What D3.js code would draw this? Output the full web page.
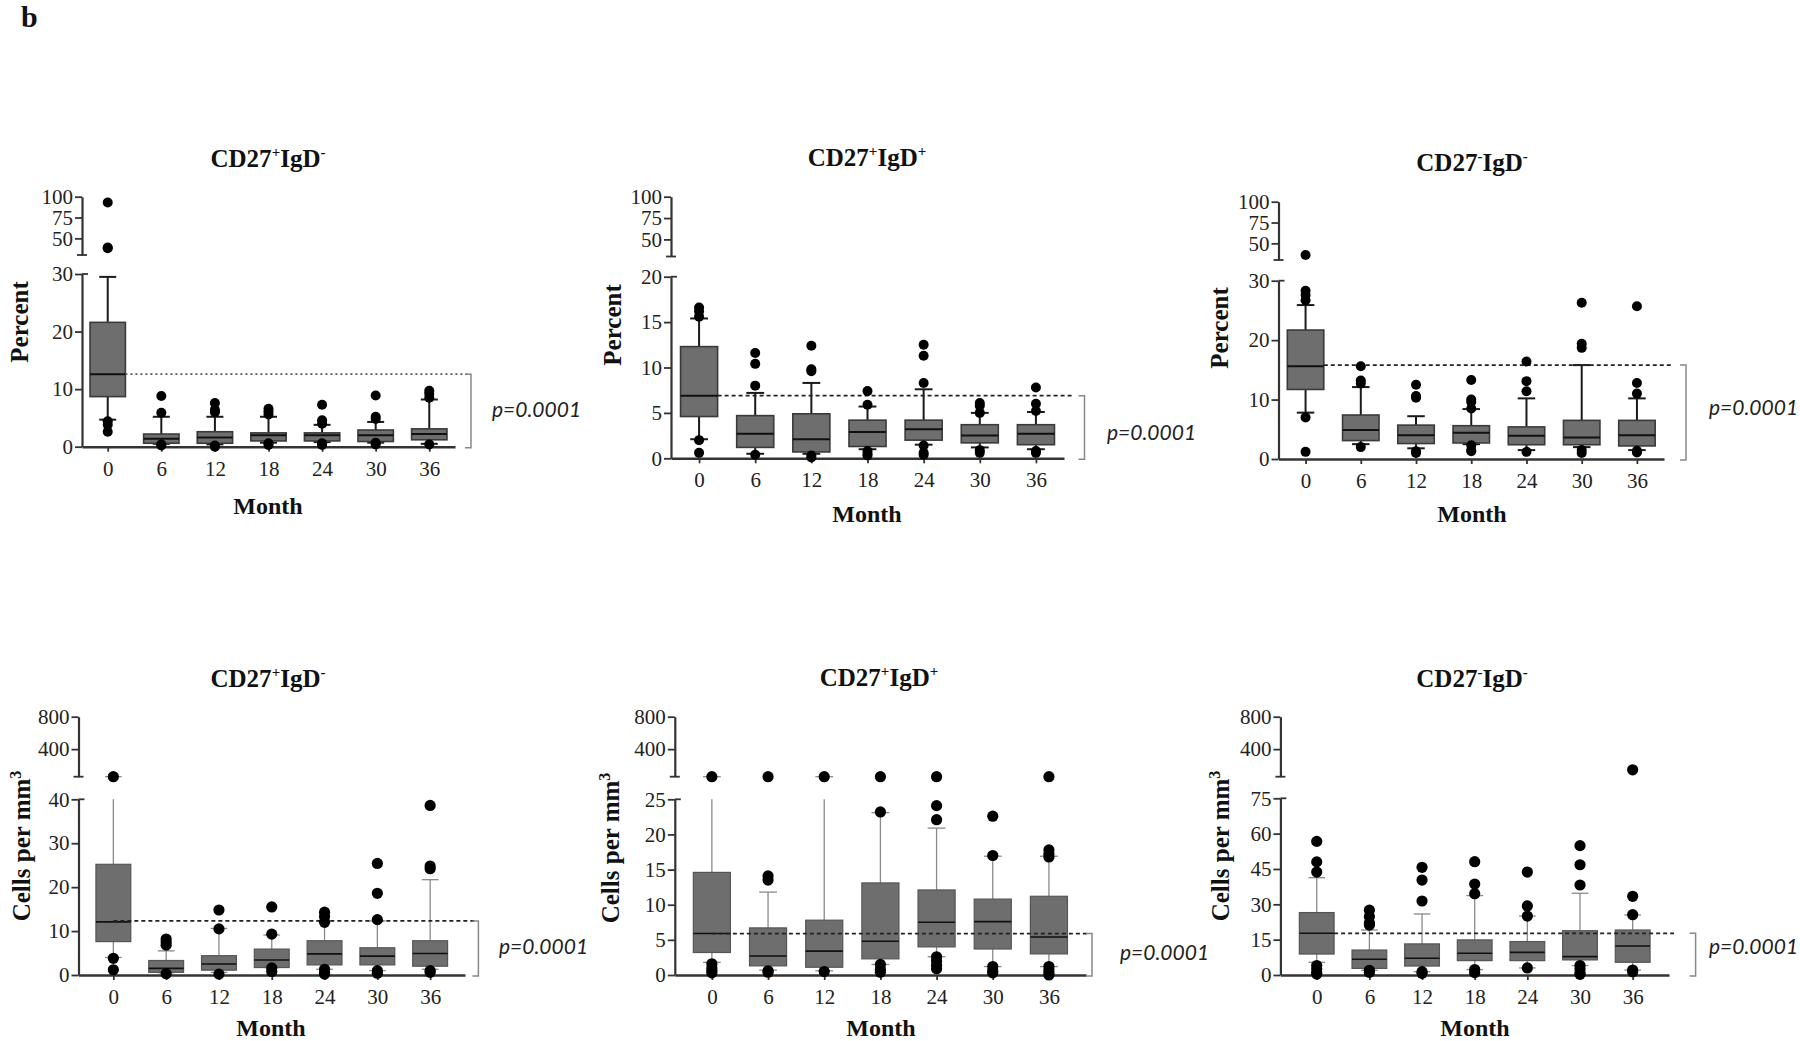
<!DOCTYPE html>
<html><head><meta charset="utf-8">
<script src="https://cdn.jsdelivr.net/npm/d3@7"></script>
<style>body{margin:0;background:#fff}svg{display:block}</style>
</head><body>
<svg id="chart" width="1800" height="1041"></svg>
<script>
// ---------------- DATA ----------------
const months = [0, 6, 12, 18, 24, 30, 36];
// each row: [whiskerLow, Q1, median, Q3, whiskerHigh]
const statsA = [[4.7,8.7,12.6,21.6,29.5],[0.5,0.6,1.4,2.2,5.2],[0.4,0.6,1.6,2.6,5.2],[0.7,1.0,2.0,2.4,5.2],[0.8,1.0,2.0,2.4,3.8],[0.7,0.9,2.0,2.9,4.3],[0.5,1.2,2.2,3.1,8.2]];
const outA = [[93,39,38,4.4,3.8,2.6],[8.8,5.9,0.4,0.2],[7.6,6.4,6.0,0.2,0.0],[6.6,6.1,5.6,0.6,0.3],[7.3,4.6,4.0,0.6,0.3],[8.9,5.2,4.8,0.7,0.4],[9.7,9.2,8.5,0.4]];
const statsB = [[2.1,4.6,6.9,12.3,15.4],[0.5,1.2,2.7,4.7,7.2],[0.5,0.7,2.1,4.9,8.3],[1.0,1.3,2.9,4.2,5.7],[1.5,2.0,3.2,4.2,7.6],[1.2,1.7,2.5,3.7,5.0],[1.0,1.5,2.7,3.7,5.1]];
const outB = [[16.6,16.2,15.6,2.0,0.6],[11.6,10.4,8.0,0.4],[12.4,9.8,9.6,0.3,0.1],[7.4,5.9,0.8,0.5,0.3],[12.5,11.3,8.3,1.4,0.6,0.4],[6.1,5.8,5.0,0.9,0.6],[7.8,6.0,5.2,0.8,0.6]];
const statsC = [[7.8,11.7,15.6,21.7,25.9],[2.5,3.1,4.9,7.4,12.1],[1.8,2.6,4.0,5.7,7.2],[2.5,2.7,4.4,5.6,8.4],[1.5,2.4,3.9,5.4,10.2],[2.0,2.4,3.6,6.5,15.8],[1.5,2.2,4.0,6.5,10.2]];
const outC = [[36,28.3,27.6,26.7,7.0,1.2],[15.6,13.2,12.7,2.0],[12.5,10.6,10.3,1.3,1.0],[13.3,10.0,9.6,8.5,2.3,1.5,1.3],[16.4,13.1,11.4,1.2],[26.3,19.4,18.7,1.5,1.0],[25.7,12.8,11.0,1.4,1.1]];
const statsD = [[4.0,7.6,12.1,25.2,60],[0.5,0.6,1.5,3.3,5.5],[0.6,1.1,2.5,4.4,10.6],[1.7,1.7,3.4,5.9,9.1],[1.3,2.3,4.8,7.8,12.3],[1.0,2.3,4.3,6.2,12.3],[1.3,2.0,4.9,7.8,21.7]];
const outD = [[60,3.8,1.2],[8.2,7.5,6.8,0.3],[14.8,10.5,0.2],[15.5,9.3,1.6,0.8],[14.3,13.3,12.0,1.3,0.5,0.2],[25.4,18.6,12.6,1.0,0.4],[38.6,24.8,24.2,1.0,0.6]];
const statsE = [[1.8,3.2,5.9,14.6,60],[0.7,1.3,2.7,6.7,11.8],[0.6,1.1,3.4,7.8,60],[1.5,2.3,4.8,13.1,23.1],[2.6,4.0,7.5,12.1,20.9],[1.2,3.7,7.6,10.8,16.9],[1.2,3.0,5.4,11.2,16.9]];
const outE = [[60,1.6,1.0,0.6,0.3],[60,14.1,13.5,0.6,0.4],[60,0.5],[60,23.2,1.5,0.8,0.4],[60,24.1,22.1,2.6,2.0,1.4,0.9],[22.6,17.0,1.2,0.6,0.3],[60,17.8,17.2,16.8,1.2,0.7,0.3,0.0]];
const statsF = [[5.4,8.9,17.7,26.5,41.3],[2.0,2.8,6.7,10.6,19.1],[1.4,3.8,7.1,13.2,25.9],[2.3,6.1,9.2,14.9,33.7],[3.0,6.1,9.6,14.2,25.0],[4.0,6.4,7.8,18.8,34.7],[2.1,5.4,12.3,19.1,25.5]];
const outF = [[56.7,48.0,43.7,4.0,2.5,1.0,0.4],[27.5,24.8,22.1,21.2,2.0,1.1],[45.7,40.3,31.4,1.4,0.7],[48.1,38.6,34.5,2.3,1.0],[43.7,29.3,25.0,3.0],[54.9,46.8,38.2,4.0,2.5,1.0,0.3],[145,33.4,25.6,2.1,1.4]];
const refValues = [12.6, 6.9, 15.8, 12.3, 5.9, 17.7];
const pLabel = "p=0.0001";
const upTicksPct = [50, 75, 100];
const upTicksCells = [400, 800];
const lowTicksA = [0, 10, 20, 30];
const lowTicksB = [0, 5, 10, 15, 20];
const lowTicksC = [0, 10, 20, 30];
const lowTicksD = [0, 10, 20, 30, 40];
const lowTicksE = [0, 5, 10, 15, 20, 25];
const lowTicksF = [0, 15, 30, 45, 60, 75];
const titlePlus = ["CD27", "+", "IgD", "-"];
const titleBothPlus = ["CD27", "+", "IgD", "+"];
const titleMinus = ["CD27", "-", "IgD", "-"];

// ---------------- LAYOUT ----------------
const panels = [
  {stats: statsA, out: outA, ref: refValues[0], title: titlePlus, ylab: ["Percent"], upT: upTicksPct, lowT: lowTicksA, upDom: [30, 100], lowDom: [0, 30],
   L: {ax: 82, xe: 455, pad: 0.48, up: [196.7, 255], low: [274, 446.7], tx: 268, ty: 158, my: 505, mx: 268, ylx: 19, yly: 322, bx: 471, px: 492, py: 410, dash: "2,3", dashCol: "#555", dashFrom: "right", dashEnd: 470, row: 0}},
  {stats: statsB, out: outB, ref: refValues[1], title: titleBothPlus, ylab: ["Percent"], upT: upTicksPct, lowT: lowTicksB, upDom: [30, 100], lowDom: [0, 20],
   L: {ax: 671, xe: 1064, pad: 0.5, up: [196.7, 256.5], low: [276.7, 458.3], tx: 867, ty: 157, my: 513, mx: 867, ylx: 612, yly: 325, bx: 1084.5, px: 1107, py: 433, dash: "4,3", dashCol: "#222", dashFrom: "right", dashEnd: 1074, row: 0}},
  {stats: statsC, out: outC, ref: refValues[2], title: titleMinus, ylab: ["Percent"], upT: upTicksPct, lowT: lowTicksC, upDom: [30, 100], lowDom: [0, 30],
   L: {ax: 1278.5, xe: 1664, pad: 0.49, up: [201.7, 260], low: [280.7, 459], tx: 1472, ty: 162, my: 513, mx: 1472, ylx: 1219, yly: 328, bx: 1686, px: 1709, py: 408, dash: "4,3", dashCol: "#222", dashFrom: "right", dashEnd: 1673, row: 0}},
  {stats: statsD, out: outD, ref: refValues[3], title: titlePlus, ylab: ["Cells per mm", "3"], upT: upTicksCells, lowT: lowTicksD, upDom: [60, 800], lowDom: [0, 40],
   L: {ax: 78.5, xe: 465, pad: 0.66, up: [716.7, 776.7], low: [799.3, 975], tx: 268, ty: 678, my: 1027, mx: 271, ylx: 21, yly: 846, bx: 478.4, px: 499, py: 947, dash: "4,3", dashCol: "#222", dashFrom: "center", dashEnd: 475, row: 1}},
  {stats: statsE, out: outE, ref: refValues[4], title: titleBothPlus, ylab: ["Cells per mm", "3"], upT: upTicksCells, lowT: lowTicksE, upDom: [60, 800], lowDom: [0, 25],
   L: {ax: 674.8, xe: 1086, pad: 0.66, up: [716.7, 776.7], low: [799.3, 975], tx: 879, ty: 677, my: 1027, mx: 881, ylx: 610, yly: 848, bx: 1092, px: 1120, py: 953, dash: "4,3", dashCol: "#222", dashFrom: "center", dashEnd: 1087, row: 1}},
  {stats: statsF, out: outF, ref: refValues[5], title: titleMinus, ylab: ["Cells per mm", "3"], upT: upTicksCells, lowT: lowTicksF, upDom: [60, 800], lowDom: [0, 75],
   L: {ax: 1280.4, xe: 1669, pad: 0.69, up: [716.7, 776.7], low: [798.3, 975], tx: 1472, ty: 678, my: 1027, mx: 1475, ylx: 1220, yly: 846, bx: 1695.6, px: 1709, py: 947, dash: "4,3", dashCol: "#222", dashFrom: "right", dashEnd: 1677, row: 1}}
];

const svg = d3.select("#chart");
const SERIF = "'Liberation Serif','Times New Roman',serif";
const AXC = "#333";

svg.append("text").attr("x", 21).attr("y", 27).attr("font-family", SERIF)
  .attr("font-weight", "bold").attr("font-size", 30).attr("fill", "#111").text("b");

function styleAxis(sel) {
  sel.selectAll("path.domain").attr("stroke", AXC).attr("stroke-width", 2.2);
  sel.selectAll(".tick line").attr("stroke", AXC).attr("stroke-width", 1.8);
  sel.selectAll(".tick text").attr("font-family", SERIF).attr("font-size", 21).attr("fill", "#222");
}

panels.forEach(p => {
  const L = p.L;
  const g = svg.append("g");
  const x = d3.scalePoint().domain(months).range([L.ax, L.xe]).padding(L.pad);
  const yU = d3.scaleLinear().domain(p.upDom).range([L.up[1], L.up[0]]);
  const yL = d3.scaleLinear().domain(p.lowDom).range([L.low[1], L.low[0]]);
  const lowMax = p.lowDom[1];
  const y = v => v > lowMax ? yU(Math.max(v, p.upDom[0])) : yL(v);
  const bw = x.step() * 0.66;
  const capW = bw * 0.48;
  const row0 = L.row === 0;
  const whCol = row0 ? "#1a1a1a" : "#8a8a8a";
  const whW = row0 ? 2 : 1.3;

  // Title
  const t = g.append("text").attr("x", L.tx).attr("y", L.ty + 9).attr("text-anchor", "middle")
    .attr("font-family", SERIF).attr("font-weight", "bold").attr("font-size", 25).attr("fill", "#111");
  t.append("tspan").text(p.title[0]);
  t.append("tspan").attr("font-size", 15).attr("dy", -10).text(p.title[1]);
  t.append("tspan").attr("dy", 10).text(p.title[2]);
  t.append("tspan").attr("font-size", 15).attr("dy", -10).text(p.title[3]);

  // Y label
  const yl = g.append("text").attr("transform", `translate(${L.ylx},${L.yly}) rotate(-90)`)
    .attr("text-anchor", "middle").attr("dy", "0.35em")
    .attr("font-family", SERIF).attr("font-weight", "bold").attr("font-size", 25).attr("fill", "#111");
  yl.append("tspan").text(p.ylab[0]);
  if (p.ylab[1]) yl.append("tspan").attr("font-size", 16).attr("baseline-shift", "9").text(p.ylab[1]);

  // Month label
  g.append("text").attr("x", L.mx).attr("y", L.my + 9).attr("text-anchor", "middle")
    .attr("font-family", SERIF).attr("font-weight", "bold").attr("font-size", 24).attr("fill", "#111").text("Month");

  // Axes
  const gu = g.append("g").attr("transform", `translate(${L.ax},0)`)
    .call(d3.axisLeft(yU).tickValues(p.upT).tickSize(7).tickPadding(2).tickSizeOuter(0));
  styleAxis(gu);
  const gl = g.append("g").attr("transform", `translate(${L.ax},0)`)
    .call(d3.axisLeft(yL).tickValues(p.lowT).tickSize(7).tickPadding(2).tickSizeOuter(0));
  styleAxis(gl);
  // break marks
  g.append("line").attr("x1", L.ax - 5).attr("x2", L.ax + 5).attr("y1", L.up[1]).attr("y2", L.up[1])
    .attr("stroke", AXC).attr("stroke-width", 1.8);
  g.append("line").attr("x1", L.ax).attr("x2", L.ax + 6).attr("y1", L.low[0]).attr("y2", L.low[0])
    .attr("stroke", AXC).attr("stroke-width", 1.8);

  const gx = g.append("g").attr("transform", `translate(0,${L.low[1]})`)
    .call(d3.axisBottom(x).tickSize(5).tickPadding(9).tickSizeOuter(0));
  styleAxis(gx);
  gx.select("path.domain").attr("stroke-width", 2.6);

  // Boxes
  const bg = g.append("g");
  p.stats.forEach((s, i) => {
    const cx = x(months[i]);
    const [wl, q1, md, q3, wh] = s;
    if (wh > lowMax) {
      bg.append("line").attr("x1", cx).attr("x2", cx).attr("y1", yL(q3)).attr("y2", yL(lowMax))
        .attr("stroke", whCol).attr("stroke-width", whW);
      bg.append("line").attr("x1", cx).attr("x2", cx).attr("y1", yU(p.upDom[0])).attr("y2", yU(wh))
        .attr("stroke", whCol).attr("stroke-width", whW);
    } else {
      bg.append("line").attr("x1", cx).attr("x2", cx).attr("y1", yL(q3)).attr("y2", yL(wh))
        .attr("stroke", whCol).attr("stroke-width", whW);
    }
    bg.append("line").attr("x1", cx - capW / 2).attr("x2", cx + capW / 2).attr("y1", y(wh)).attr("y2", y(wh))
      .attr("stroke", whCol).attr("stroke-width", whW);
    bg.append("line").attr("x1", cx).attr("x2", cx).attr("y1", yL(q1)).attr("y2", yL(wl))
      .attr("stroke", whCol).attr("stroke-width", whW);
    bg.append("line").attr("x1", cx - capW / 2).attr("x2", cx + capW / 2).attr("y1", yL(wl)).attr("y2", yL(wl))
      .attr("stroke", whCol).attr("stroke-width", whW);
    bg.append("rect").attr("x", cx - bw / 2).attr("width", bw).attr("y", yL(q3)).attr("height", yL(q1) - yL(q3))
      .attr("fill", "#6e6e6e").attr("stroke", row0 ? "#3a3a3a" : "#555").attr("stroke-width", row0 ? 1.6 : 1.2);
    bg.append("line").attr("x1", cx - bw / 2).attr("x2", cx + bw / 2).attr("y1", yL(md)).attr("y2", yL(md))
      .attr("stroke", "#111").attr("stroke-width", row0 ? 2 : 1.6);
  });

  // reference dashed line
  const x0 = x(months[0]) + (L.dashFrom === "right" ? bw / 2 : 0);
  g.append("line").attr("x1", x0).attr("x2", L.dashEnd).attr("y1", yL(p.ref)).attr("y2", yL(p.ref))
    .attr("stroke", L.dashCol).attr("stroke-width", 1.8).attr("stroke-dasharray", L.dash);

  // bracket
  const by0 = yL(p.ref), by1 = yL(0) + 1;
  g.append("path").attr("d", `M${L.bx - 6},${by0}H${L.bx}V${by1}H${L.bx - 6}`)
    .attr("fill", "none").attr("stroke", "#888").attr("stroke-width", 1.5);
  g.append("text").attr("x", L.px).attr("y", L.py).attr("dy", "0.35em")
    .attr("font-family", "Lato, 'Open Sans', sans-serif").attr("font-style", "italic")
    .attr("font-size", 21).attr("fill", "#222").text(pLabel);

  // outliers
  const pts = [];
  p.out.forEach((arr, i) => arr.forEach(v => pts.push([months[i], v])));
  g.append("g").selectAll("circle").data(pts).join("circle")
    .attr("cx", d => x(d[0])).attr("cy", d => y(d[1]))
    .attr("r", row0 ? 5 : 5.6).attr("fill", "#000");
});
</script>
</body></html>
